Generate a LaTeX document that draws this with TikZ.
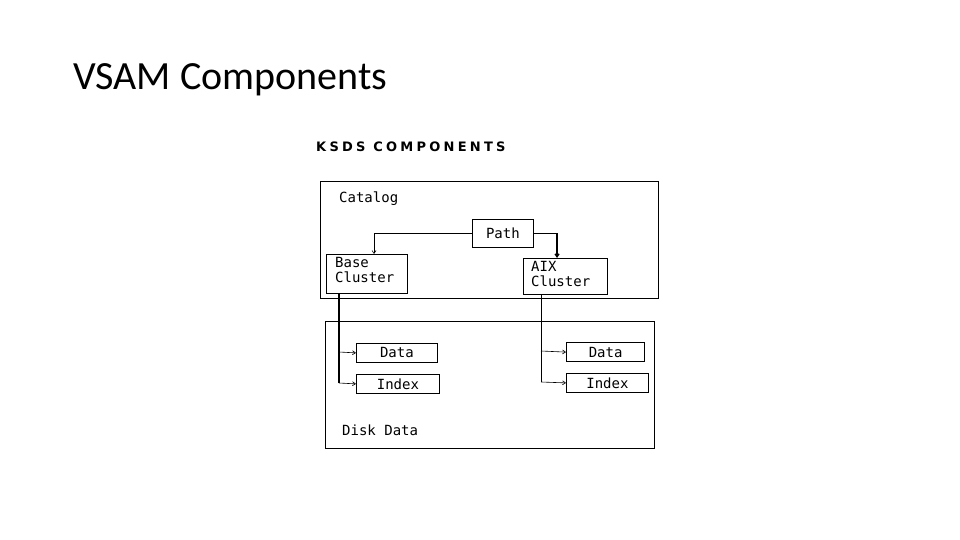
\documentclass[tikz,border=0pt]{standalone}
\usepackage{fontspec}
\setmainfont{DejaVu Sans Mono}
\newfontfamily\titlefont{Carlito}
\newfontfamily\ksdsfont[LetterSpace=25]{DejaVu Sans}
\usetikzlibrary{arrows.meta}
\begin{document}
\begin{tikzpicture}[x=1pt,y=-1pt,
  box/.style={draw,line width=0.8pt,inner sep=0pt},
  lbl/.style={font=\fontsize{14}{15}\selectfont,anchor=west,inner sep=0pt},
  conn/.style={draw,line width=0.6pt,-{Straight Barb[length=3pt,width=4pt]}}]
\useasboundingbox (0,0) rectangle (960,540);
\node[anchor=west,inner sep=0pt,font=\titlefont\fontsize{40}{44}\selectfont] (title) at (73,80) {VSAM Components};
\node[anchor=west,inner sep=0pt,font=\ksdsfont\fontsize{13}{14}\selectfont\bfseries] (ksds) at (316,147) {KSDS COMPONENTS};
\node[box,minimum width=338,minimum height=117,anchor=north west] (catalog) at (320,181) {};
\node[box,line width=1.4pt,minimum width=329,minimum height=127,anchor=north west] (disk) at (325,321) {};
\node[lbl] (catlbl) at (339,199) {Catalog};
\node[lbl] (disklbl) at (342,430) {Disk Data};
\node[box,minimum width=61,minimum height=28,anchor=north west,font=\fontsize{14}{15}\selectfont] (path) at (472,219) {Path};
\node[box,line width=1.2pt,minimum width=81,minimum height=39,anchor=north west] (base) at (326,254) {};
\node[lbl,align=left,font=\fontsize{14}{15}\selectfont] at (335,270) {Base\\Cluster};
\node[box,minimum width=84,minimum height=36,anchor=north west] (aix) at (523,258) {};
\node[lbl,align=left,font=\fontsize{14}{15}\selectfont] at (531,274) {AIX\\Cluster};
\node[box,minimum width=81,minimum height=19,anchor=north west,font=\fontsize{14}{15}\selectfont] (dl) at (356,343) {Data};
\node[box,minimum width=83,minimum height=19,anchor=north west,font=\fontsize{14}{15}\selectfont] (il) at (356,374) {Index};
\node[box,line width=1.2pt,minimum width=78,minimum height=19,anchor=north west,font=\fontsize{14}{15}\selectfont] (dr) at (566,342) {Data};
\node[box,minimum width=82,minimum height=19,anchor=north west,font=\fontsize{14}{15}\selectfont] (ir) at (566,373) {Index};
\draw[conn] (path.west) -| (base.north -| 374,0);
\draw[conn,line width=1.3pt] (path.east) -| (aix.north -| 557,0);
\coordinate (bl) at (339,293);
\coordinate (al) at (541,294);
\draw[line width=1.2pt] (bl) -- (339,383);
\draw[conn] (339,352) -- (dl.west);
\draw[conn] (339,383) -- (il.west);
\draw[line width=0.6pt] (al) -- (541,382);
\draw[conn] (541,351) -- (dr.west);
\draw[conn] (541,382) -- (ir.west);
\end{tikzpicture}
\end{document}
